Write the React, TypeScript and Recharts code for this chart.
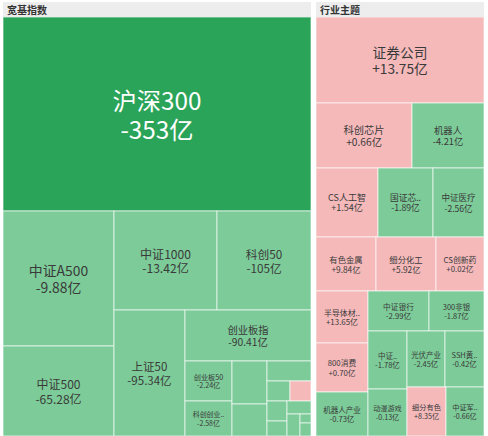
import { Treemap } from "recharts";

// 宽基指数 (broad index) panel
const broadNames = [
  "沪深300", "中证A500", "中证500", "中证1000", "科创50", "上证50", "创业板指",
  "创业板50", "科创创业..", "深证100", "中证2000", "深证成指", "中证100",
  "上证180", "中证800", "国证2000", "上证指数", "深证综指", "北证50", "科创100",
];
const broadSizes = [
  59558, 14874, 10101, 10197, 9207, 8900, 6426, 1880, 1598, 1505, 1085, 860,
  460, 400, 400, 280, 299, 276, 99, 108,
];
const broadFlows = [
  -353, -9.88, -65.28, -13.42, -105, -95.34, -90.41, -2.24, -2.58, -1.35,
  -0.92, -0.81, -0.44, 0.38, -0.36, -0.27, -0.25, -0.21, -0.08, -0.06,
];

// 行业主题 (sector theme) panel
const themeNames = [
  "证券公司", "科创芯片", "机器人", "CS人工智", "国证芯..", "中证医疗",
  "有色金属", "细分化工", "CS创新药", "半导体材..", "800消费", "机器人产业",
  "中证银行", "300非银", "中证..", "动漫游戏", "光伏产业", "SSH黄..",
  "细分有色", "中证军..",
];
const themeSizes = [
  14280, 6175, 4745, 4278, 3795, 3519, 3240, 3240, 2592, 2704, 2548, 2184,
  2440, 2200, 2240, 1880, 2128, 2128, 1880, 1739,
];
const themeFlows = [
  13.75, 0.66, -4.21, 1.54, -1.89, -2.56, 9.84, 5.92, 0.02, 13.65, 0.7, -0.73,
  -2.99, -1.87, -1.78, -0.13, -2.45, -0.42, 8.35, -0.66,
];

const PINK = "#f5b9ba";
const LIGHT_GREEN = "#7ccb98";
const DARK_GREEN = "#2aa458";

const toRows = (names: string[], sizes: number[], flows: number[]) =>
  names.map((name, i) => ({ name, size: sizes[i], flow: flows[i] }));

const fmt = (v: number) => {
  const s = Number.isInteger(v) ? String(Math.abs(v)) : Math.abs(v).toFixed(2);
  return `${v > 0 ? "+" : "-"}${s}亿`;
};

const Tile = (props: any) => {
  const { x, y, width, height, depth, name, flow } = props;
  if (depth !== 1) return null;
  const strong = flow <= -200;
  const fill = flow > 0 ? PINK : strong ? DARK_GREEN : LIGHT_GREEN;
  const fs = 3.5 + 0.085 * Math.sqrt(width * height);
  const show = width >= 36 && height >= 30;
  const cx = x + width / 2;
  const cy = y + height / 2;
  const gap = fs * 1.2;
  const font = "'Noto Sans CJK SC', 'Noto Sans', sans-serif";
  const color = strong ? "#ffffff" : "#3a3a3a";
  return (
    <g>
      <rect
        x={x}
        y={y}
        width={width}
        height={height}
        fill={fill}
        stroke="rgba(255,255,255,0.65)"
        strokeWidth={1}
      />
      {show && (
        <text
          x={cx}
          y={cy - gap / 2}
          textAnchor="middle"
          dominantBaseline="central"
          fontSize={fs}
          fill={color}
          fontFamily={font}
        >
          {name}
        </text>
      )}
      {show && (
        <text
          x={cx}
          y={cy + gap / 2}
          textAnchor="middle"
          dominantBaseline="central"
          fontSize={fs}
          fill={color}
          fontFamily={font}
        >
          {fmt(flow)}
        </text>
      )}
    </g>
  );
};

const titleStyle = {
  position: "absolute" as const,
  top: 2,
  height: 15,
  background: "#ededed",
  fontFamily: "'Noto Sans CJK SC', sans-serif",
  fontWeight: 700,
  fontSize: 10,
  lineHeight: "15px",
  color: "#333",
  paddingLeft: 4,
  boxSizing: "border-box" as const,
};

export default function App() {
  return (
    <div
      style={{
        position: "absolute",
        left: 0,
        top: 0,
        width: 488,
        height: 436,
        background: "#fff",
        overflow: "hidden",
      }}
    >
      <div style={{ ...titleStyle, left: 3, width: 308 }}>宽基指数</div>
      <div style={{ position: "absolute", left: 3, top: 17 }}>
        <Treemap
          width={308}
          height={419}
          data={toRows(broadNames, broadSizes, broadFlows)}
          dataKey="size"
          nameKey="name"
          aspectRatio={0.9}
          isAnimationActive={false}
          content={<Tile />}
        />
      </div>
      <div style={{ ...titleStyle, left: 316, width: 168 }}>行业主题</div>
      <div style={{ position: "absolute", left: 316, top: 17 }}>
        <Treemap
          width={168}
          height={419}
          data={toRows(themeNames, themeSizes, themeFlows)}
          dataKey="size"
          nameKey="name"
          aspectRatio={0.9}
          isAnimationActive={false}
          content={<Tile />}
        />
      </div>
    </div>
  );
}
